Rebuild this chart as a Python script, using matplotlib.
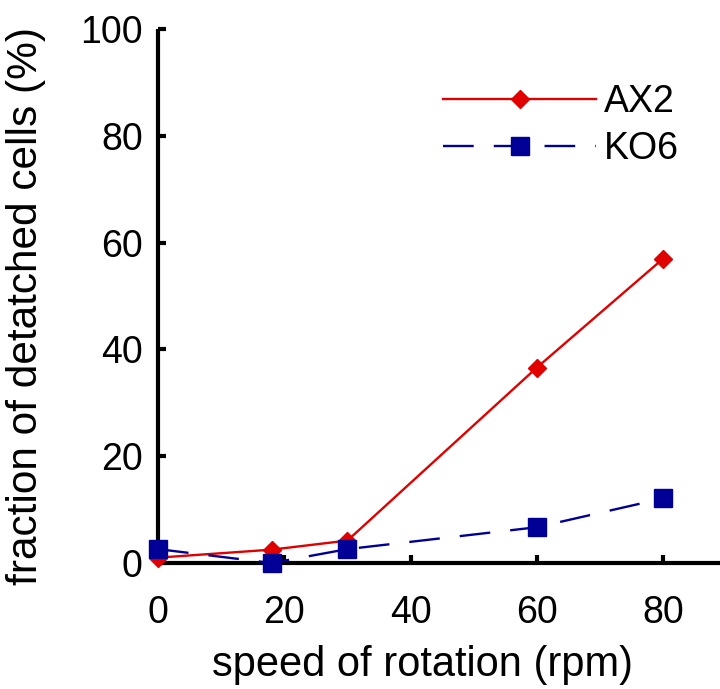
import matplotlib
matplotlib.use("Agg")
import matplotlib.pyplot as plt

plt.rcParams['font.family'] = ['Liberation Sans', 'DejaVu Sans']

# data
speed = [0, 18, 30, 60, 80]
ax2_vals = [1.0, 2.5, 4.2, 36.6, 57.0]
ko6_vals = [2.6, 0.0, 2.6, 6.7, 12.1]
series_labels = ["AX2", "KO6"]
xticks = [0, 20, 40, 60, 80]
yticks = [0, 20, 40, 60, 80, 100]

W, H = 720, 689
fig = plt.figure(figsize=(W / 100, H / 100), dpi=100)
left, right, bottom, top = 158, 720, 563, 29
ax = fig.add_axes([left / W, 1 - bottom / H, (right - left) / W, (bottom - top) / H])

red = '#E00000'
navy = '#000096'
ax.plot(speed, ax2_vals, color=red, lw=1.7, marker='D', ms=8.8,
        mec=red, mfc=red, clip_on=False, zorder=3, label=series_labels[0])
ax.plot(speed, ko6_vals, color=navy, lw=1.7, marker='s', ms=13,
        mec=navy, mfc=navy, clip_on=False, zorder=4, dashes=(13, 8.5),
        label=series_labels[1])

ax.set_xlim(0, 89)
ax.set_ylim(0, 100)
ax.set_xticks(xticks)
ax.set_yticks(yticks)

for s in ['top', 'right']:
    ax.spines[s].set_visible(False)
for s in ['left', 'bottom']:
    ax.spines[s].set_linewidth(3)
    ax.spines[s].set_capstyle('butt')

ax.tick_params(axis='both', direction='in', length=6, width=3, labelsize=27)
ax.tick_params(axis='x', pad=23)
ax.tick_params(axis='y', pad=11)

ax.set_xlabel('speed of rotation (rpm)', fontsize=30)
ax.set_ylabel('fraction of detatched cells (%)', fontsize=30.5)
ax.xaxis.set_label_coords((422 - left) / (right - left), -(645 - bottom) / (bottom - top), transform=ax.transAxes)
ax.yaxis.set_label_coords(-(158 - 46) / (right - left), (bottom - 306) / (bottom - top), transform=ax.transAxes)

leg = ax.legend(loc='upper left', bbox_to_anchor=(443 / W, 1 - 84 / H),
                bbox_transform=fig.transFigure, frameon=False, fontsize=27,
                handlelength=4.08, handletextpad=0.2, labelspacing=0.3,
                borderpad=0, borderaxespad=0)

fig.savefig('out.png', dpi=100)
